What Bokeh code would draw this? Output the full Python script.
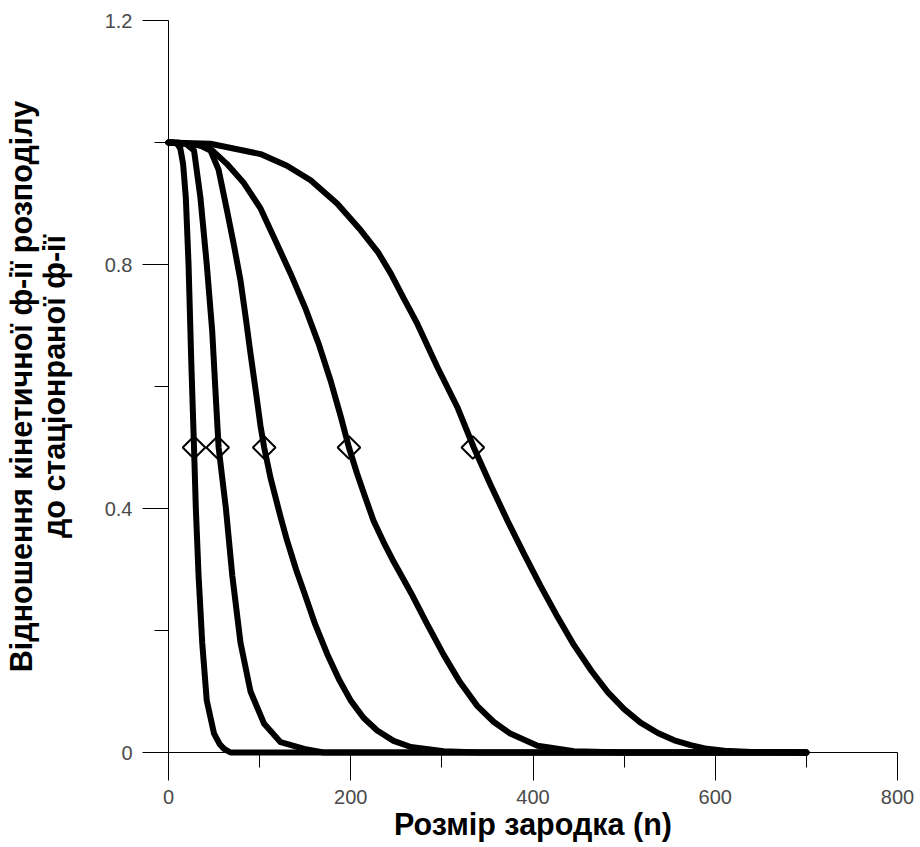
import math
from bokeh.plotting import figure
from bokeh.models import FixedTicker, Range1d
from bokeh.embed import file_html
from bokeh.resources import INLINE

# ---- data ----
n1 = [0, 5, 10, 13, 16, 19, 22, 25, 28, 30, 33, 37, 42, 50, 56, 61, 68, 80, 700]
f1 = [1.0, 1.0, 0.997, 0.99, 0.965, 0.91, 0.80, 0.64, 0.50, 0.40, 0.29, 0.18, 0.085, 0.031, 0.014, 0.006, 0.0, 0.0, 0.0]

n2 = [0, 10, 20, 28, 35, 42, 48, 52, 55, 63, 70, 79, 90, 105, 123, 149, 170, 700]
f2 = [1.0, 1.0, 0.997, 0.987, 0.91, 0.80, 0.69, 0.58, 0.50, 0.40, 0.29, 0.18, 0.10, 0.047, 0.017, 0.006, 0.0, 0.0]

n3 = [0, 20, 35, 46, 55, 64, 72, 79, 85, 90, 96, 101, 105, 112, 123, 130, 140, 149, 161, 174, 187, 200, 214, 229, 247, 266, 302, 340, 700]
f3 = [1.0, 0.998, 0.995, 0.987, 0.955, 0.89, 0.83, 0.774, 0.71, 0.654, 0.59, 0.535, 0.50, 0.45, 0.386, 0.348, 0.30, 0.262, 0.21, 0.162, 0.12, 0.085, 0.057, 0.036, 0.019, 0.009, 0.002, 0.0, 0.0]

n4 = [0, 30, 46, 64, 82, 101, 117, 134, 150, 165, 178, 189, 198, 207, 216, 225, 236, 247, 256, 266, 284, 302, 320, 339, 357, 375, 405, 445, 500, 700]
f4 = [1.0, 0.997, 0.99, 0.965, 0.935, 0.892, 0.84, 0.785, 0.729, 0.669, 0.609, 0.551, 0.50, 0.457, 0.418, 0.38, 0.345, 0.313, 0.289, 0.262, 0.21, 0.16, 0.115, 0.076, 0.05, 0.031, 0.011, 0.002, 0.0, 0.0]

n5 = [0, 46, 101, 130, 156, 185, 211, 230, 244, 258, 273, 295, 317, 335, 353, 372, 390, 408, 427, 445, 464, 482, 500, 518, 537, 555, 573, 591, 610, 640, 700]
f5 = [1.0, 0.998, 0.981, 0.962, 0.938, 0.90, 0.856, 0.82, 0.785, 0.745, 0.703, 0.632, 0.566, 0.50, 0.44, 0.38, 0.326, 0.274, 0.222, 0.176, 0.134, 0.099, 0.071, 0.049, 0.032, 0.020, 0.012, 0.006, 0.003, 0.001, 0.0]

half_n = [28, 54, 105, 198, 334]
half_f = [0.5, 0.5, 0.5, 0.5, 0.5]

x_ticks = [0, 200, 400, 600, 800]
x_minor = [100, 300, 500, 700]
y_ticks = [0, 0.4, 0.8, 1.2]
y_minor = [0.2, 0.6, 1.0]
y_tick_labels = {0: "0", 0.4: "0.4", 0.8: "0.8", 1.2: "1.2"}

x_title = "Розмір зародка (n)"
y_title = "Відношення кінетичної ф-ії розподілу\nдо стаціонраної ф-ії"

# ---- figure ----
p = figure(width=918, height=847, output_backend="svg", toolbar_location=None,
           x_range=Range1d(0, 800), y_range=Range1d(0, 1.2),
           min_border_left=168, min_border_right=21, min_border_top=20, min_border_bottom=95)
p.outline_line_color = None
p.grid.visible = False
p.background_fill_color = "white"
p.border_fill_color = "white"

for xs, ys in [(n1, f1), (n2, f2), (n3, f3), (n4, f4), (n5, f5)]:
    p.line(xs, ys, line_color="black", line_width=6, line_join="round", line_cap="round",
           level="overlay")

p.scatter(half_n, half_f, marker="square", angle=math.pi / 4, size=16,
          fill_alpha=0, line_color="black", line_width=2, level="overlay")

tick_font = "Liberation Sans"
tick_color = "#4a4a4a"
title_font = "Liberation Sans"
title_size = "30.5px"

xa = p.xaxis[0]
xa.ticker = FixedTicker(ticks=x_ticks, minor_ticks=x_minor)
xa.axis_line_color = "black"
xa.major_tick_in = 0
xa.major_tick_out = 28
xa.minor_tick_in = 0
xa.minor_tick_out = 15
xa.major_tick_line_color = "black"
xa.minor_tick_line_color = "black"
xa.major_label_text_font = tick_font
xa.major_label_text_font_size = "20px"
xa.major_label_text_color = tick_color
xa.major_label_standoff = 9
xa.axis_label = x_title
xa.axis_label_standoff = 0
xa.axis_label_text_font = title_font
xa.axis_label_text_font_size = title_size
xa.axis_label_text_font_style = "bold"
xa.axis_label_text_color = "black"

ya = p.yaxis[0]
ya.ticker = FixedTicker(ticks=y_ticks, minor_ticks=y_minor)
ya.major_label_overrides = y_tick_labels
ya.axis_line_color = "black"
ya.major_tick_in = 0
ya.major_tick_out = 26
ya.minor_tick_in = 0
ya.minor_tick_out = 14
ya.major_tick_line_color = "black"
ya.minor_tick_line_color = "black"
ya.major_label_text_font = tick_font
ya.major_label_text_font_size = "20px"
ya.major_label_text_color = tick_color
ya.major_label_standoff = 10
ya.axis_label = y_title
ya.axis_label_standoff = 31
ya.axis_label_text_font = title_font
ya.axis_label_text_font_size = title_size
ya.axis_label_text_font_style = "bold"
ya.axis_label_text_color = "black"
ya.axis_label_text_line_height = 0.97

open("out.html", "w").write(file_html(p, INLINE))
